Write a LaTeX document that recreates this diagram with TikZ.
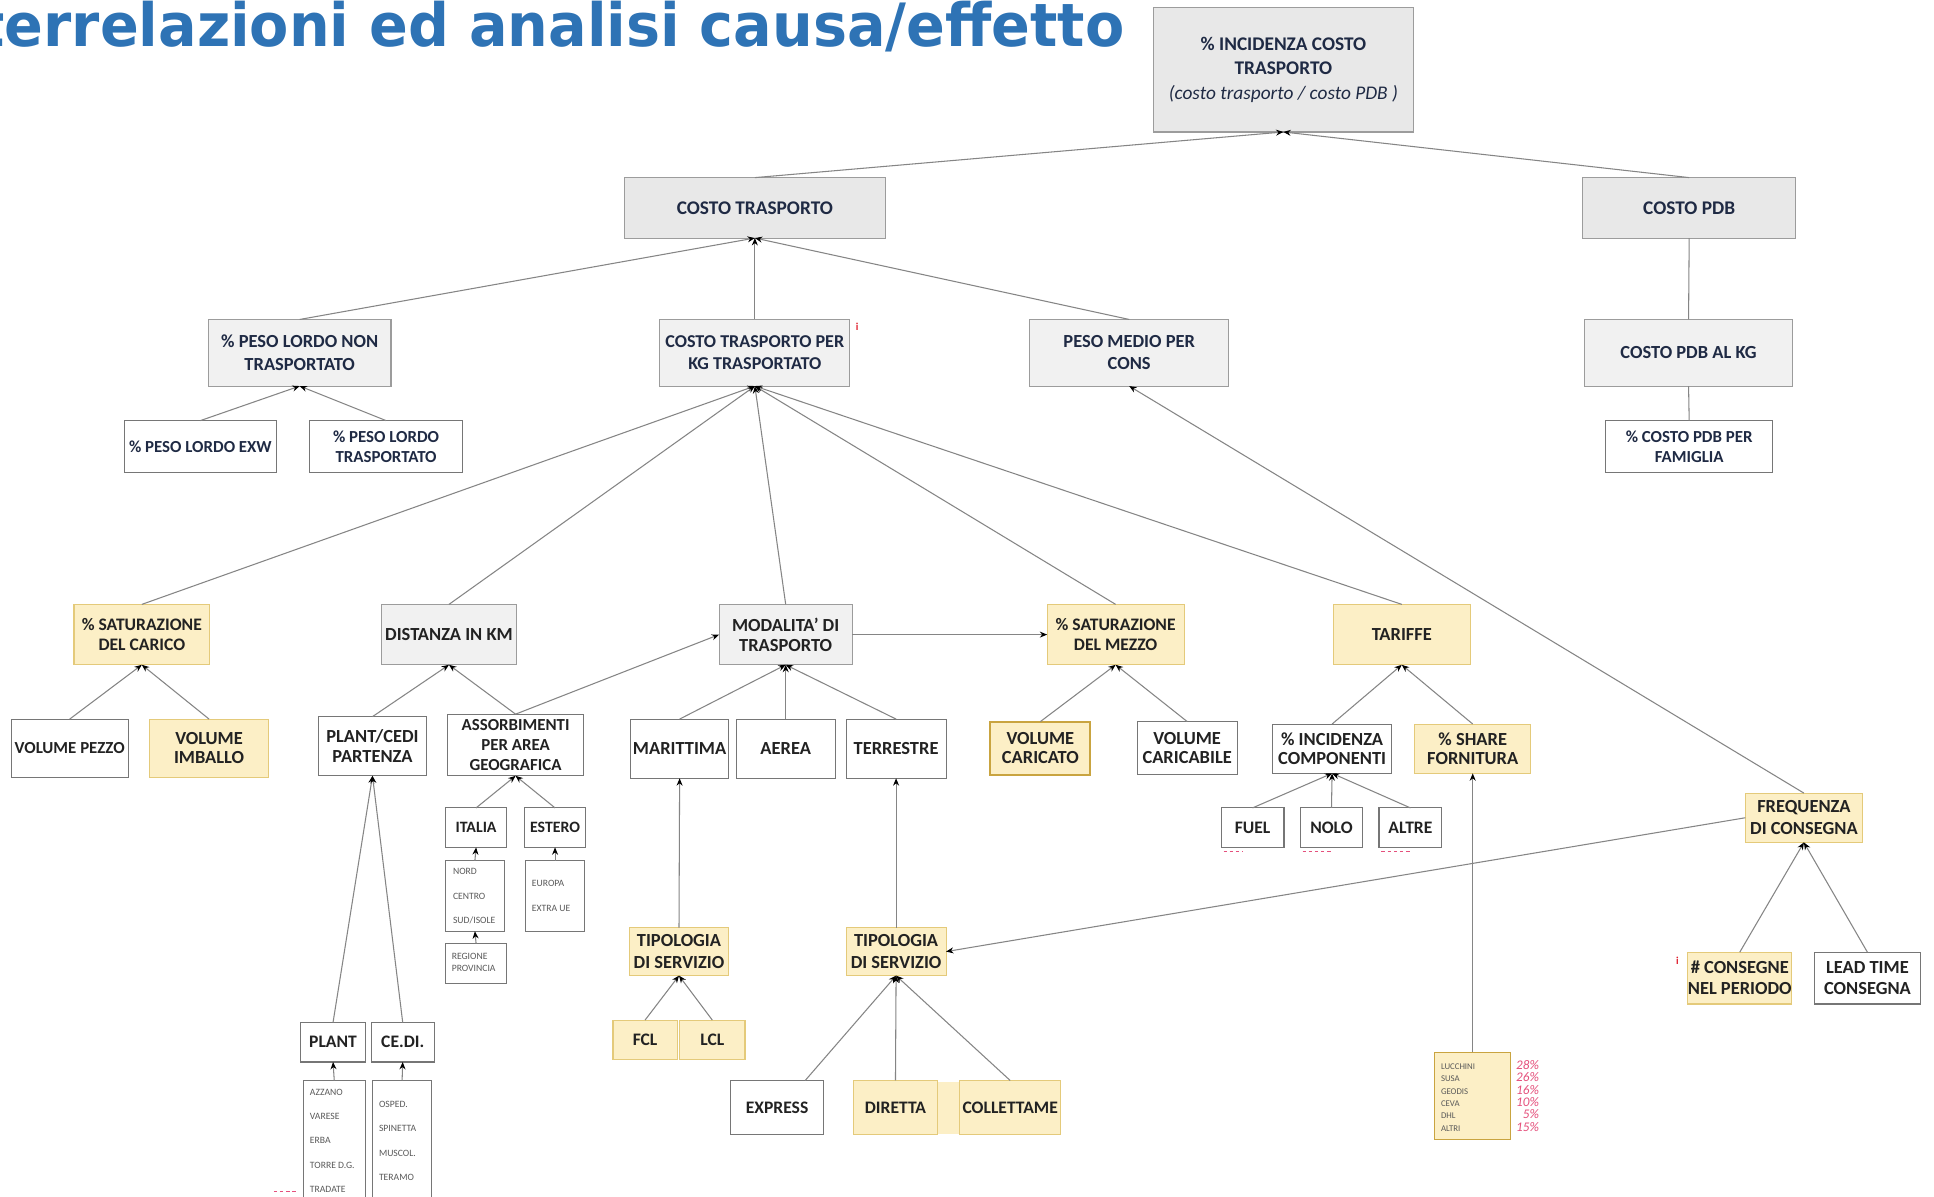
\documentclass[tikz,border=0pt]{standalone}
\usepackage{fontspec}
\usepackage{graphicx}
\setmainfont{Carlito}
\newfontfamily\ttlfont{DejaVu Sans}
\usetikzlibrary{arrows.meta,calc}

\definecolor{boxgray}{HTML}{E8E8E8}
\definecolor{boxgraylt}{HTML}{F1F1F1}
\definecolor{edgegray}{HTML}{9C9C9C}
\definecolor{edgedark}{HTML}{767676}
\definecolor{yfill}{HTML}{FCEFC6}
\definecolor{yedge}{HTML}{E4CA7A}
\definecolor{yedgedk}{HTML}{C9A440}
\definecolor{ttlblue}{HTML}{2E73B5}
\definecolor{navytxt}{HTML}{1F2A44}
\definecolor{txtdark}{HTML}{222222}
\definecolor{linkgray}{HTML}{858585}
\definecolor{listgray}{HTML}{5A5A5A}
\definecolor{pctred}{HTML}{E5507C}
\definecolor{markred}{HTML}{E0202E}

\newsavebox\ttlbox
\newlength\ttlw

% box from its corner coordinates: [style]{name}{x1}{y1}{x2}{y2}{text}
\newcommand\bx[7][]{%
  \node[box,#1,minimum width={(#5-#3)*0.024668cm},minimum height={(#6-#4)*0.024668cm}]
    (#2) at ({(#3+#5)/2},{(#4+#6)/2}) {#7};}

\tikzset{
  fs/.style 2 args={font=\bfseries\fontsize{#1}{#2}\selectfont},
  box/.style={draw, inner sep=0pt, outer sep=0pt, align=center, line width=0.6pt,
              fs={10.5}{11.2}},
  bxg/.style={fill=boxgray, draw=edgegray, text=navytxt},
  bxl/.style={fill=boxgraylt, draw=edgegray, text=navytxt},
  bxw/.style={fill=white, draw=edgedark, text=txtdark},
  bxy/.style={fill=yfill, draw=yedge, text=txtdark},
  lnk/.style={draw=linkgray, line width=0.6pt, -{Stealth[length=4.2pt,width=3.4pt,color=black]}},
  pln/.style={draw=linkgray, line width=0.6pt},
  lst/.style={inner sep=0pt, anchor=base west, text=listgray, font=\fontsize{5.5}{6}\selectfont},
  pct/.style={inner sep=0pt, anchor=base east, text=pctred, font=\itshape\fontsize{7.5}{8}\selectfont},
  redmark/.style={inner sep=0pt, text=markred, font=\bfseries\fontsize{6}{6}\selectfont},
  redtick/.style={draw=pctred, line width=0.5pt, dash pattern=on 2pt off 1.5pt},
}

\begin{document}
% width of the visible part of the heading, used to fit it horizontally
\sbox\ttlbox{\ttlfont\bfseries\fontsize{34}{34}\selectfont errelazioni ed analisi causa/effetto}
\setlength\ttlw{\wd\ttlbox}
\pgfmathsetmacro\ttlsx{908*0.70187/\ttlw}
\begin{tikzpicture}[x=0.024668cm, y=-0.024668cm]
\useasboundingbox (0,0) rectangle (1568,970);
\fill[white] (0,0) rectangle (1568,970);
\begin{scope}
\clip (0,0) rectangle (1568,970);

% title
\node[anchor=base east, inner sep=0pt, text=ttlblue] (ttl) at (912,38)
  {\scalebox{\ttlsx}[1]{\ttlfont\bfseries\fontsize{34}{34}\selectfont Interrelazioni ed analisi causa/effetto}};

% top levels
\bx[bxg,fs={11}{14}]{root}{935}{6}{1146}{107}{\% INCIDENZA COSTO\\TRASPORTO\\{\mdseries\itshape (costo trasporto / costo PDB )}}
\bx[bxg,fs={11}{12.6}]{ct}{506}{144}{718}{193}{COSTO TRASPORTO}
\bx[bxg,fs={11}{12.6}]{cpdb}{1283}{144}{1456}{193}{COSTO PDB}

\bx[bxl,fs={10.5}{12.6}]{plnt}{169}{259}{317}{313}{\% PESO LORDO NON\\TRASPORTATO}
\bx[bxl,fs={10.3}{12.6}]{ctkg}{535}{259}{689}{313}{COSTO TRASPORTO PER\\KG TRASPORTATO}
\bx[bxl,fs={10.5}{12.6}]{pmc}{835}{259}{996}{313}{PESO MEDIO PER\\CONS}
\bx[bxl,fs={10.5}{12.6}]{cpkg}{1285}{259}{1453}{313}{COSTO PDB AL KG}

\bx[bxw,text=navytxt,fs={9.6}{11.2}]{exw}{101}{341}{224}{383}{\% PESO LORDO EXW}
\bx[bxw,text=navytxt,fs={9.6}{11.2}]{plt}{251}{341}{375}{383}{\% PESO LORDO\\TRASPORTATO}
\bx[bxw,text=navytxt,fs={9.6}{11.2}]{cfam}{1302}{341}{1437}{383}{\% COSTO PDB PER\\FAMIGLIA}

% factors
\bx[bxy,fs={10}{11.2}]{satc}{60}{490}{170}{539}{\% SATURAZIONE\\DEL CARICO}
\bx[bxl,text=txtdark]{dist}{309}{490}{419}{539}{DISTANZA IN KM}
\bx[bxl,text=txtdark]{mod}{583}{490}{691}{539}{MODALITA’ DI\\TRASPORTO}
\bx[bxy,fs={10}{11.2}]{satm}{849}{490}{960}{539}{\% SATURAZIONE\\DEL MEZZO}
\bx[bxy]{tar}{1081}{490}{1192}{539}{TARIFFE}

\bx[bxw,fs={9.6}{11.2}]{vp}{9}{583}{104}{630}{VOLUME PEZZO}
\bx[bxy]{vi}{121}{583}{218}{630}{VOLUME\\IMBALLO}
\bx[bxw]{pcp}{258}{581}{346}{629}{PLANT/CEDI\\PARTENZA}
\bx[bxw,fs={9.6}{11.2}]{ass}{363}{579}{473}{629}{ASSORBIMENTI\\PER AREA\\GEOGRAFICA}
\bx[bxw]{mar}{511}{583}{591}{631}{MARITTIMA}
\bx[bxw]{aer}{597}{583}{677}{631}{AEREA}
\bx[bxw]{ter}{686}{583}{767}{631}{TERRESTRE}
\bx[bxy,draw=yedgedk,line width=1.1pt]{vca}{803}{585}{884}{628}{VOLUME\\CARICATO}
\bx[bxw]{vcb}{922}{585}{1003}{628}{VOLUME\\CARICABILE}
\bx[bxw]{inc}{1032}{587}{1128}{627}{\% INCIDENZA\\COMPONENTI}
\bx[bxy]{shr}{1147}{587}{1241}{627}{\% SHARE\\FORNITURA}

% geography
\bx[bxw,fs={9}{10}]{ita}{361}{655}{411}{687}{ITALIA}
\bx[bxw,fs={9}{10}]{est}{425}{655}{475}{687}{ESTERO}
\bx[bxw]{nordb}{361}{698}{409}{755}{}
\bx[bxw]{eub}{426}{698}{474}{755}{}
\bx[bxw]{regb}{361}{765}{411}{797}{}
\foreach \t [count=\i from 0] in {NORD,CENTRO,SUD/ISOLE}
  \node[lst] (nord\i) at (367,{709+20*\i}) {\t};
\foreach \t [count=\i from 0] in {EUROPA,EXTRA UE}
  \node[lst] (eu\i) at (431,{719+20*\i}) {\t};
\foreach \t [count=\i from 0] in {REGIONE,PROVINCIA}
  \node[lst] (reg\i) at (366,{778+10*\i}) {\t};

% tariff components
\bx[bxw,fs={10}{11}]{fuel}{990}{655}{1041}{687}{FUEL}
\bx[bxw,fs={10}{11}]{nolo}{1054}{655}{1105}{687}{NOLO}
\bx[bxw,fs={10}{11}]{altre}{1118}{655}{1169}{687}{ALTRE}
\draw[redtick] (992,690) -- (1008,690);
\draw[redtick] (1056,690) -- (1080,690);
\draw[redtick] (1120,690) -- (1143,690);

% delivery frequency
\bx[bxy,fs={10.5}{12.6}]{freq}{1415}{643}{1510}{683}{FREQUENZA\\DI CONSEGNA}
\bx[bxy,fs={10.5}{12}]{ncons}{1369}{772}{1452}{814}{\# CONSEGNE\\NEL PERIODO}
\bx[bxw,fs={10.5}{12}]{lead}{1471}{772}{1557}{814}{LEAD TIME\\CONSEGNA}
\node[redmark] (ri2) at (1360,779) {i};
\node[redmark] (ri1) at (695,265) {i};

% service types
\bx[bxy,fs={10.5}{12.6}]{tipl}{510}{752}{591}{791}{TIPOLOGIA\\DI SERVIZIO}
\bx[bxy,fs={10.5}{12.6}]{tipr}{686}{752}{767}{791}{TIPOLOGIA\\DI SERVIZIO}
\bx[bxy,fs={10}{11}]{fcl}{497}{827}{549}{859}{FCL}
\bx[bxy,fs={10}{11}]{lcl}{551}{827}{604}{859}{LCL}
\fill[yfill] (760,877) rectangle (778,919);
\bx[bxw,fs={10}{11}]{expr}{592}{876}{668}{920}{EXPRESS}
\bx[bxy,fs={10}{11}]{dir}{692}{876}{760}{920}{DIRETTA}
\bx[bxy,fs={10}{11}]{coll}{778}{876}{860}{920}{COLLETTAME}

% plants and distribution centres
\bx[bxw,fs={10}{11}]{plant}{244}{829}{296}{861}{PLANT}
\bx[bxw,fs={10}{11}]{cedi}{301}{829}{352}{861}{CE.DI.}
\bx[bxw]{azb}{246}{876}{296}{985}{}
\bx[bxw]{ospb}{302}{876}{350}{985}{}
\foreach \t [count=\i from 0] in {AZZANO,VARESE,ERBA,TORRE D.G.,TRADATE}
  \node[lst] (az\i) at (251,{888+19.7*\i}) {\t};
\foreach \t [count=\i from 0] in {OSPED.,SPINETTA,MUSCOL.,TERAMO}
  \node[lst] (os\i) at (307,{898+19.7*\i}) {\t};
\draw[redtick] (222,966) -- (240,966);

% carriers
\bx[bxy,draw=yedgedk]{luc}{1163}{853}{1225}{924}{}
\foreach \t [count=\i from 0] in {LUCCHINI,SUSA,GEODIS,CEVA,DHL,ALTRI}
  \node[lst,font=\fontsize{5}{5}\selectfont,text=txtdark!75] (lu\i) at (1168,{867+10*\i}) {\t};
\foreach \p [count=\i from 0] in {28,26,16,10,5,15}
  \node[pct] (pc\i) at (1248,{867+10*\i}) {\p\%};

% connectors
\draw[lnk] (ct.north) -- (root.south);
\draw[lnk] (cpdb.north) -- (root.south);
\draw[lnk] (plnt.north) -- (ct.south);
\draw[lnk] (ctkg.north) -- (ct.south);
\draw[lnk] (pmc.north) -- (ct.south);
\draw[pln] (cpkg.north) -- (cpdb.south);
\draw[pln] (cfam.north) -- (cpkg.south);
\draw[lnk] (exw.north) -- (plnt.south);
\draw[lnk] (plt.north) -- (plnt.south);
\foreach \n in {satc,dist,mod,satm,tar}
  \draw[lnk] (\n.north) -- (ctkg.south);
\draw[lnk] (freq.north) -- (pmc.south);
\draw[lnk] (vp.north) -- (satc.south);
\draw[lnk] (vi.north) -- (satc.south);
\draw[lnk] (pcp.north) -- (dist.south);
\draw[lnk] (ass.north) -- (dist.south);
\draw[lnk] (ass.north) -- (mod.west);
\draw[lnk] (mod.east) -- (satm.west);
\foreach \n in {mar,aer,ter}
  \draw[lnk] (\n.north) -- (mod.south);
\draw[lnk] (vca.north) -- (satm.south);
\draw[lnk] (vcb.north) -- (satm.south);
\draw[lnk] (inc.north) -- (tar.south);
\draw[lnk] (shr.north) -- (tar.south);
\foreach \n in {fuel,nolo,altre}
  \draw[lnk] (\n.north) -- (inc.south);
\draw[lnk] (luc.north) -- (shr.south);
\draw[lnk] (plant.north) -- (pcp.south);
\draw[lnk] (cedi.north) -- (pcp.south);
\draw[lnk] (ita.north) -- (ass.south);
\draw[lnk] (est.north) -- (ass.south);
\draw[lnk] (nordb.north) -- (ita.south);
\draw[lnk] (regb.north) -- (nordb.south);
\draw[lnk] (eub.north) -- (est.south);
\draw[lnk] (azb.north) -- (plant.south);
\draw[lnk] (ospb.north) -- (cedi.south);
\draw[lnk] (tipl.north) -- (mar.south);
\draw[lnk] (tipr.north) -- (ter.south);
\draw[lnk] (fcl.north) -- (tipl.south);
\draw[lnk] (lcl.north) -- (tipl.south);
\draw[lnk] ($(expr.north)!0.6!(expr.north east)$) -- (tipr.south);
\draw[lnk] (dir.north) -- (tipr.south);
\draw[lnk] (coll.north) -- (tipr.south);
\draw[lnk] (freq.west) -- (tipr.east);
\draw[lnk] (ncons.north) -- (freq.south);
\draw[lnk] (lead.north) -- (freq.south);
\end{scope}
\end{tikzpicture}
\end{document}
